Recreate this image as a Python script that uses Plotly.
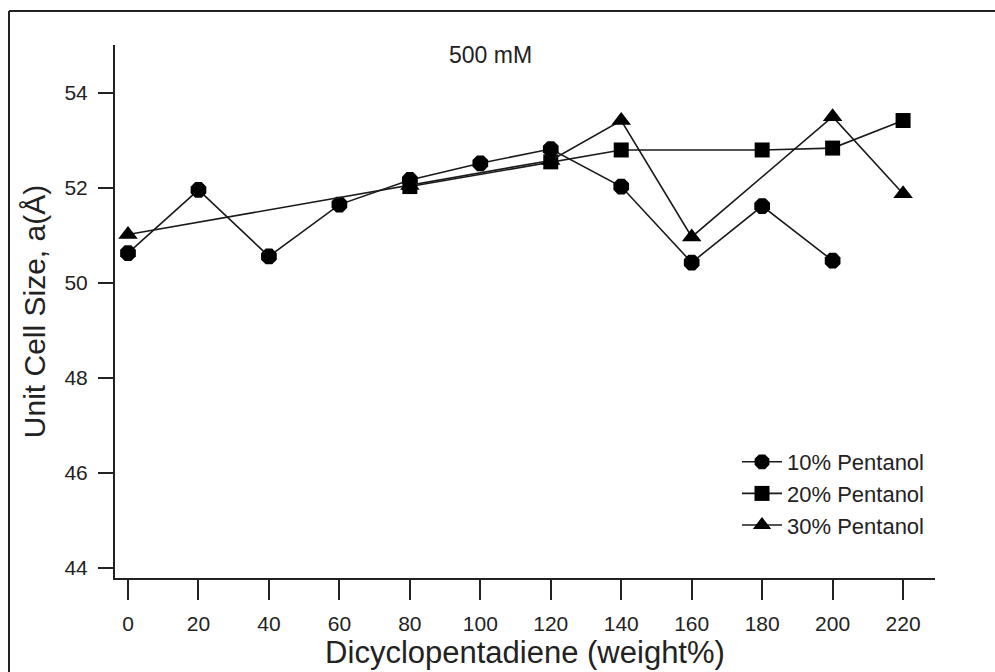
import plotly.graph_objects as go

# Data
x10 = [0, 20, 40, 60, 80, 100, 120, 140, 160, 180, 200]
y10 = [50.63, 51.96, 50.56, 51.65, 52.17, 52.52, 52.82, 52.03, 50.43, 51.62, 50.47]
x20 = [80, 120, 140, 180, 200, 220]
y20 = [52.03, 52.55, 52.80, 52.80, 52.84, 53.42]
x30 = [0, 80, 120, 140, 160, 200, 220]
y30 = [51.02, 52.05, 52.58, 53.42, 50.97, 53.50, 51.88]
series_names = ["10% Pentanol", "20% Pentanol", "30% Pentanol"]
xticks = [0, 20, 40, 60, 80, 100, 120, 140, 160, 180, 200, 220]
yticks = [44, 46, 48, 50, 52, 54]

W, H = 995, 672
L, R, T, B = 115, 60, 45, 94
pw, ph = W - L - R, H - T - B

fig = go.Figure()
line = dict(color="#1a1a1a", width=1.6)
fig.add_trace(go.Scatter(x=x10, y=y10, mode="lines+markers", name=series_names[0],
                         line=line, marker=dict(symbol="octagon", size=17, color="black")))
fig.add_trace(go.Scatter(x=x20, y=y20, mode="lines+markers", name=series_names[1],
                         line=line, marker=dict(symbol="square", size=15, color="black")))
fig.add_trace(go.Scatter(x=x30, y=y30, mode="lines+markers", name=series_names[2],
                         line=line, marker=dict(symbol="triangle-up", size=17, color="black")))

font = "Liberation Sans, Arial, sans-serif"
axis_common = dict(showgrid=False, zeroline=False, showline=True, linecolor="#222",
                   linewidth=2, ticks="outside", tickwidth=1.5, tickcolor="#222",
                   tickfont=dict(family=font, size=21, color="#222"), mirror=False)

fig.update_xaxes(range=[-3.69, 229.06], tickvals=xticks, ticktext=[str(v) for v in xticks],
                 ticklen=20, ticklabelstandoff=6,
                 title=dict(text="Dicyclopentadiene (weight%)", font=dict(family=font, size=31, color="#222"), standoff=0),
                 **axis_common)
fig.update_yaxes(range=[43.79, 55.01], tickvals=yticks, ticktext=[str(v) for v in yticks],
                 ticklen=15, ticklabelstandoff=6,
                 title=dict(text="Unit Cell Size, a(Å)", font=dict(family=font, size=30, color="#222"), standoff=10),
                 **axis_common)

# frame lines (left and top border of the image)
def px2paper_x(px):
    return (px - L) / pw

def px2paper_y(py):
    return (H - B - py) / ph

fig.add_shape(type="line", xref="paper", yref="paper",
              x0=px2paper_x(9), x1=px2paper_x(1000), y0=px2paper_y(11), y1=px2paper_y(11),
              line=dict(color="#222", width=2))
fig.add_shape(type="line", xref="paper", yref="paper",
              x0=px2paper_x(9), x1=px2paper_x(9), y0=px2paper_y(11), y1=px2paper_y(680),
              line=dict(color="#222", width=2))

fig.add_annotation(text="500 mM", xref="paper", yref="paper",
                   x=px2paper_x(490), y=px2paper_y(55), showarrow=False,
                   font=dict(family=font, size=23, color="#222"), xanchor="center", yanchor="middle")

fig.update_layout(
    width=W, height=H, margin=dict(l=L, r=R, t=T, b=B),
    paper_bgcolor="white", plot_bgcolor="white",
    showlegend=True,
    legend=dict(x=px2paper_x(737), y=px2paper_y(441), xanchor="left", yanchor="top",
                bgcolor="rgba(0,0,0,0)", font=dict(family=font, size=22, color="#222"),
                itemwidth=40),
)

fig.write_html("out.html")
